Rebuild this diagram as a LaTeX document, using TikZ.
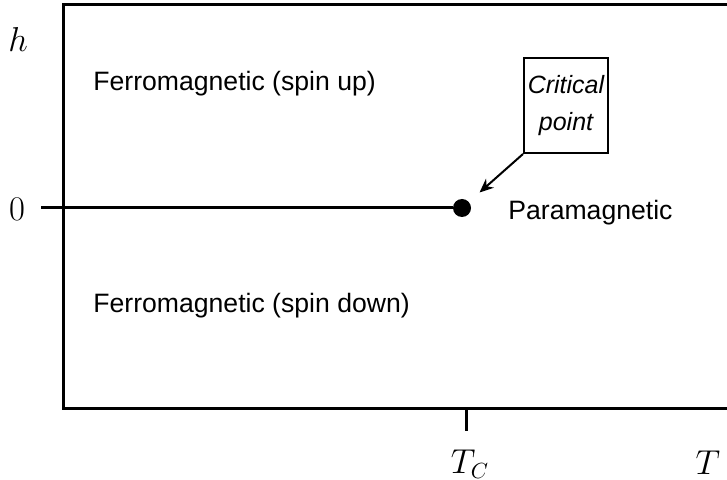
\documentclass[tikz,border=0pt]{standalone}
\usepackage{amsmath}
\usepackage{fontspec}
\newfontfamily\arial{Liberation Sans}
\usepackage{tikz}
\usetikzlibrary{arrows.meta,positioning}

\begin{document}
\begin{tikzpicture}[x=0.5pt,y=-0.5pt,>=Stealth,
  axis/.style={line width=1.5pt},
  phase/.style={font=\arial\fontsize{13.3}{16}\selectfont,anchor=west,inner sep=0pt},
  lbl/.style={font=\fontsize{16}{18}\selectfont,inner sep=0pt},
  note/.style={draw,line width=1pt,minimum width=42pt,minimum height=47.5pt,
    align=center,inner sep=0pt,font=\arial\itshape\fontsize{12.5}{18.5}\selectfont}]
  \useasboundingbox (0,0) rectangle (727,480);
  % frame, open to the right
  \coordinate (tr) at (727,5);
  \coordinate (tl) at (63,5);
  \coordinate (bl) at (63,408);
  \coordinate (br) at (727,408);
  \draw[axis,line cap=rect] (tr) -- (tl) -- (bl) -- (br);
  % h = 0 line and critical point
  \coordinate (z0) at (41,208);
  \node[circle,fill,inner sep=0pt,minimum size=9pt] (cp) at (462,208) {};
  \draw[axis] (z0) -- (cp);
  \coordinate (tc) at (466,408);
  \coordinate (tcend) at (466,431);
  \draw[axis] (tc) -- (tcend);
  % labels
  \node[lbl] (hlabel) at (18,40) {$h$};
  \node[lbl] (zerolabel) at (17,209) {$0$};
  \node[lbl] (tclabel) at (470,464) {$T_C$};
  \node[lbl] (tlabel) at (708,463) {$T$};
  \node[phase] (up) at (93,84) {Ferromagnetic (spin up)};
  \node[phase] (down) at (93,306) {Ferromagnetic (spin down)};
  \node[phase] (para) at (508,213) {Paramagnetic};
  \node[note] (crit) at (566,105.5) {Critical\\point};
  \draw[-{Stealth[length=7pt,width=6pt]},line width=1pt,shorten >=7pt] (crit.south west) -- (cp);
\end{tikzpicture}
\end{document}
